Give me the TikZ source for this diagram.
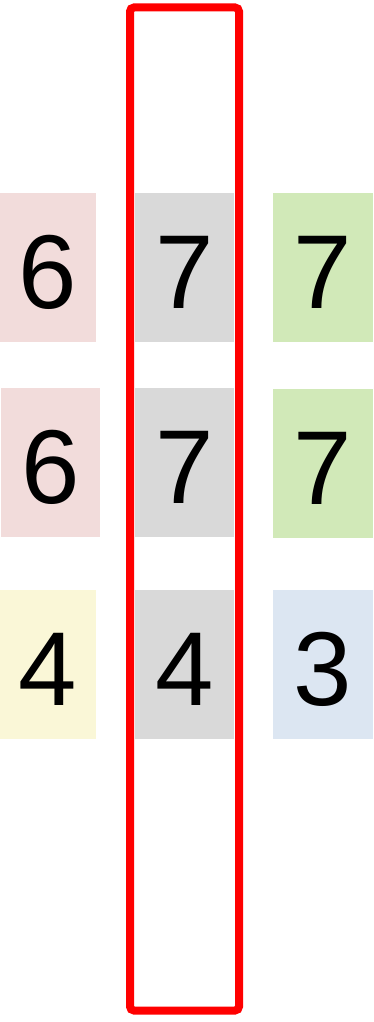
\documentclass[tikz,border=0pt]{standalone}
\usepackage{fontspec}
\setmainfont{Liberation Sans}
\definecolor{cpink}{HTML}{F2DCDB}
\definecolor{cgray}{HTML}{D9D9D9}
\definecolor{cgreen}{HTML}{D1E9B8}
\definecolor{cyellow}{HTML}{FAF7D7}
\definecolor{cblue}{HTML}{DCE6F2}
\definecolor{cred}{HTML}{FF0000}
\begin{document}
\begin{tikzpicture}[x=1pt,y=-1pt,
  cell/.style={inner sep=0pt, outer sep=0pt, minimum height=149pt, text height=81pt, text depth=0pt,
    font=\fontsize{105}{105}\selectfont, text=black},
  frame/.style={draw=cred, line width=8pt, rounded corners=4pt}]
\useasboundingbox (0,0) rectangle (373,1022);
\fill[white] (0,0) rectangle (373,1022);
% row 1
\node[cell, fill=cpink, minimum width=96pt] (a1) at (48,267.5) {6};
\node[cell, fill=cgray, minimum width=99pt] (b1) at (184.5,267.5) {7};
\node[cell, fill=cgreen, minimum width=100pt] (c1) at (323,267.5) {7};
% row 2
\node[cell, fill=cpink, minimum width=99pt] (a2) at (50.5,462.5) {6};
\node[cell, fill=cgray, minimum width=99pt] (b2) at (184.5,462.5) {7};
\node[cell, fill=cgreen, minimum width=100pt] (c2) at (323,463.5) {7};
% row 3
\node[cell, fill=cyellow, minimum width=96pt] (a3) at (48,664.5) {4};
\node[cell, fill=cgray, minimum width=99pt] (b3) at (184.5,664.5) {4};
\node[cell, fill=cblue, minimum width=100pt] (c3) at (323,664.5) {3};
% red frame
\draw[frame] (130,7.5) rectangle (239,1010.5);
\end{tikzpicture}
\end{document}
